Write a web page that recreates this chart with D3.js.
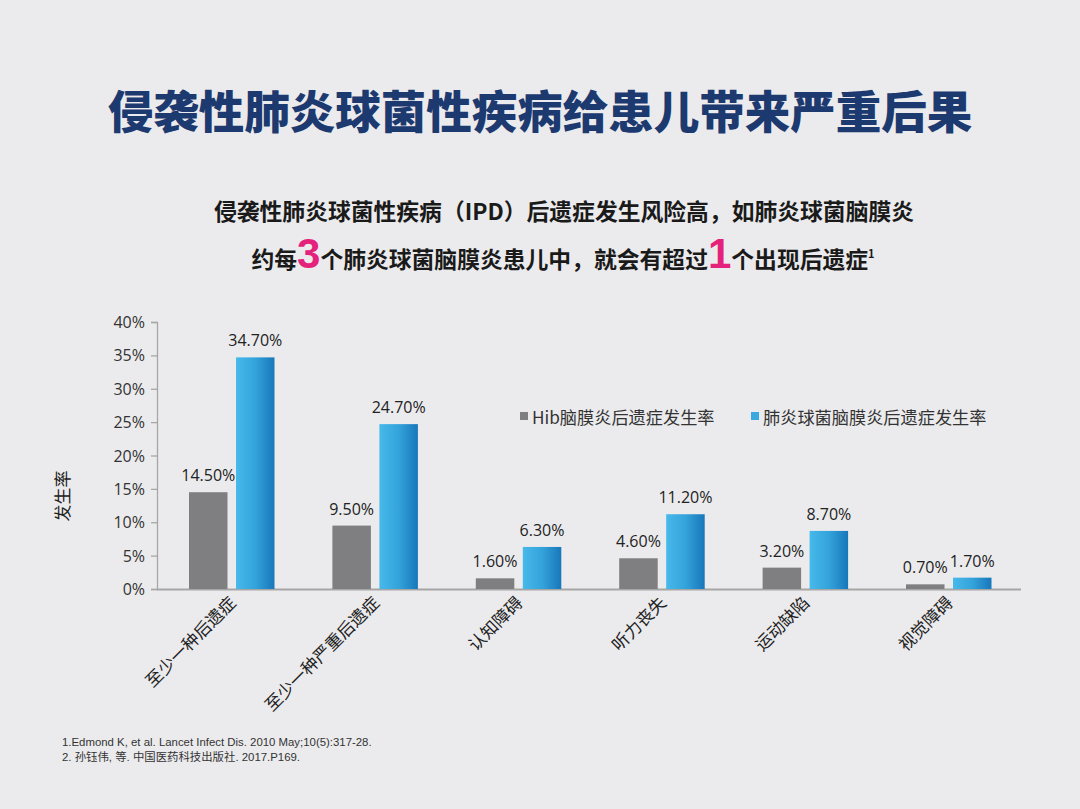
<!DOCTYPE html>
<html>
<head>
<meta charset="utf-8">
<script src="https://cdn.jsdelivr.net/npm/d3@7"></script>
<style>
  html, body { margin: 0; padding: 0; background: #ebebed; }
  svg { display: block; }
</style>
</head>
<body>
<svg id="chart" width="1080" height="809"></svg>
<script>
const categories = ["至少一种后遗症", "至少一种严重后遗症", "认知障碍", "听力丧失", "运动缺陷", "视觉障碍"];
const seriesNames = ["Hib脑膜炎后遗症发生率", "肺炎球菌脑膜炎后遗症发生率"];
const hibValues = [14.5, 9.5, 1.6, 4.6, 3.2, 0.7];
const pneumoValues = [34.7, 24.7, 6.3, 11.2, 8.7, 1.7];
const yTicks = [0, 5, 10, 15, 20, 25, 30, 35, 40];

const svg = d3.select("#chart");
const W = 1080, H = 809;
svg.append("rect").attr("width", W).attr("height", H).attr("fill", "#ebebed");

const defs = svg.append("defs");
const grad = defs.append("linearGradient").attr("id", "blueGrad").attr("x1", "0%").attr("x2", "100%").attr("y1", "0%").attr("y2", "0%");
grad.append("stop").attr("offset", "0%").attr("stop-color", "#47b9ea");
grad.append("stop").attr("offset", "50%").attr("stop-color", "#34a3db");
grad.append("stop").attr("offset", "100%").attr("stop-color", "#1877ba");

const CJK = "'Noto Sans CJK SC', 'Noto Sans', sans-serif";

// Title
svg.append("text").attr("x", 540).attr("y", 129).attr("text-anchor", "middle")
  .attr("font-family", CJK).attr("font-weight", 900).attr("font-size", 45.5)
  .attr("fill", "#1d3a70").text("侵袭性肺炎球菌性疾病给患儿带来严重后果");

// Subtitle lines
svg.append("text").attr("x", 564).attr("y", 220).attr("text-anchor", "middle")
  .attr("font-family", CJK).attr("font-weight", 700).attr("font-size", 22.8)
  .attr("fill", "#1a1a1a").text("侵袭性肺炎球菌性疾病（IPD）后遗症发生风险高，如肺炎球菌脑膜炎");

const l2 = svg.append("text").attr("x", 563).attr("y", 268).attr("text-anchor", "middle")
  .attr("font-family", CJK).attr("font-weight", 700).attr("font-size", 22.8).attr("fill", "#1a1a1a");
l2.append("tspan").text("约每");
l2.append("tspan").attr("font-size", 42).attr("fill", "#e5227b").attr("font-family", "'Liberation Sans', Arial, sans-serif").text("3");
l2.append("tspan").text("个肺炎球菌脑膜炎患儿中，就会有超过");
l2.append("tspan").attr("font-size", 42).attr("fill", "#e5227b").attr("font-family", "'Liberation Sans', Arial, sans-serif").text("1");
l2.append("tspan").text("个出现后遗症");
l2.append("tspan").attr("font-size", 11).attr("dy", -10).text("1");

// Scales
const x0 = d3.scaleBand().domain(categories).range([160.3, 1020.7]).padding(0);
const y = d3.scaleLinear().domain([0, 40]).range([589, 322]);

const axisColor = "#a6a6a6";

// Y axis
const yAxis = svg.append("g").attr("transform", "translate(157,0)")
  .call(d3.axisLeft(y).tickValues(yTicks).tickFormat(d => d + "%").tickSize(6).tickPadding(6));
yAxis.select(".domain").attr("stroke", axisColor).attr("stroke-width", 1.3);
yAxis.selectAll(".tick line").attr("stroke", axisColor).attr("stroke-width", 1.3);
yAxis.selectAll(".tick text").attr("font-family", "'Open Sans', 'Noto Sans', sans-serif")
  .attr("font-size", 16).attr("fill", "#333").attr("dy", "0.35em");

// X axis baseline
const xAxis = svg.append("g").attr("transform", "translate(0,589)")
  .call(d3.axisBottom(x0).tickSize(0).tickPadding(0).tickFormat(""));
xAxis.select(".domain").attr("d", "M157,0.5H1021").attr("stroke", axisColor).attr("stroke-width", 1.8);

// Bars
const groups = svg.append("g").selectAll("g").data(categories).join("g");
const barW = 38.5;
groups.append("rect")
  .attr("x", (d) => x0(d) + x0.bandwidth() / 2 - 43)
  .attr("y", (d, i) => y(hibValues[i]))
  .attr("width", barW)
  .attr("height", (d, i) => y(0) - y(hibValues[i]))
  .attr("fill", "#7f7e80");
groups.append("rect")
  .attr("x", (d) => x0(d) + x0.bandwidth() / 2 + 4)
  .attr("y", (d, i) => y(pneumoValues[i]))
  .attr("width", barW)
  .attr("height", (d, i) => y(0) - y(pneumoValues[i]))
  .attr("fill", "url(#blueGrad)");

// Value labels
const lblFont = "'Open Sans', 'Noto Sans', sans-serif";
groups.append("text")
  .attr("x", (d) => x0(d) + x0.bandwidth() / 2 - 43 + barW / 2)
  .attr("y", (d, i) => y(hibValues[i]) - 11)
  .attr("text-anchor", "middle").attr("font-family", lblFont).attr("font-size", 16).attr("fill", "#222")
  .text((d, i) => hibValues[i].toFixed(2) + "%");
groups.append("text")
  .attr("x", (d) => x0(d) + x0.bandwidth() / 2 + 4 + barW / 2)
  .attr("y", (d, i) => y(pneumoValues[i]) - 11)
  .attr("text-anchor", "middle").attr("font-family", lblFont).attr("font-size", 16).attr("fill", "#222")
  .text((d, i) => pneumoValues[i].toFixed(2) + "%");

// Category labels (rotated)
groups.append("text")
  .attr("transform", (d) => `translate(${x0(d) + x0.bandwidth() / 2 + 5},${604}) rotate(-45)`)
  .attr("text-anchor", "end").attr("font-family", CJK).attr("font-size", 17).attr("fill", "#222")
  .text(d => d);

// Y axis title
svg.append("text").attr("transform", "translate(69,496) rotate(-90)").attr("text-anchor", "middle")
  .attr("font-family", CJK).attr("font-size", 17).attr("fill", "#222").text("发生率");

// Legend
const legend = svg.append("g").attr("font-family", CJK).attr("font-size", 17.2).attr("fill", "#333");
const legendItems = [
  { name: seriesNames[0], color: "#7f7e80", x: 520 },
  { name: seriesNames[1], color: "#3aa9df", x: 751 }
];
legendItems.forEach(it => {
  legend.append("rect").attr("x", it.x).attr("y", 412).attr("width", 8).attr("height", 8).attr("fill", it.color);
  legend.append("text").attr("x", it.x + 12).attr("y", 424).text(it.name);
});

// Footnotes
const fn = svg.append("g").attr("font-family", "'Liberation Sans', Arial, 'Noto Sans CJK SC', sans-serif").attr("font-size", 11.4).attr("fill", "#333");
fn.append("text").attr("x", 62).attr("y", 746).text("1.Edmond K, et al. Lancet Infect Dis. 2010 May;10(5):317-28.");
fn.append("text").attr("x", 62).attr("y", 761).text("2. 孙钰伟, 等. 中国医药科技出版社. 2017.P169.");
</script>
</body>
</html>
